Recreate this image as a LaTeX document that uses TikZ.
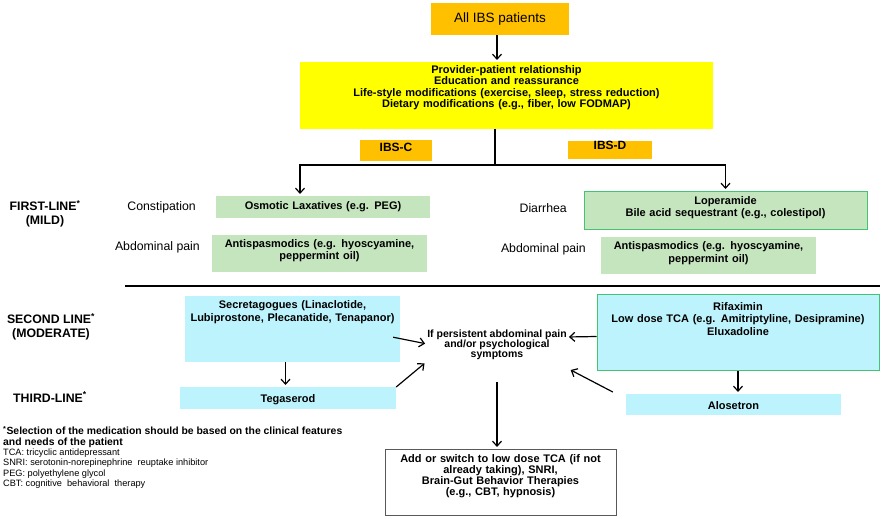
\documentclass[tikz,border=0pt]{standalone}
\usepackage{fontspec}
\setmainfont{Liberation Sans}
\usepackage{tikz}
\usetikzlibrary{arrows.meta}
\usepackage{xcolor}
\definecolor{ibsorange}{HTML}{FFC000}
\definecolor{ibsyellow}{HTML}{FFFF00}
\definecolor{ibsgreen}{HTML}{C5E5BE}
\definecolor{ibsblue}{HTML}{BCF3FC}
\definecolor{ibsborder}{HTML}{44C373}
\definecolor{ibsgray}{HTML}{595959}
\begin{document}
\begin{tikzpicture}[x=1pt,y=-1pt,
		arr/.style={draw,line width=1.2pt,-{Straight Barb[length=5pt,width=9pt]},shorten >=2pt},
		ln/.style={draw,line width=1.2pt},
		drug/.style={inner sep=0pt,align=center,font=\bfseries\fontsize{11}{12.5}\selectfont},
		greenbox/.style={drug,fill=ibsgreen},
		bluebox/.style={drug,fill=ibsblue},
		subtype/.style={fill=ibsorange,inner sep=0pt,align=center,font=\bfseries\fontsize{12}{13}\selectfont},
		lbl/.style={inner sep=0pt,anchor=east,font=\fontsize{12.3}{14}\selectfont},
		level/.style={inner sep=0pt,align=center,font=\bfseries\fontsize{12.3}{14}\selectfont}]
				\useasboundingbox (0,0) rectangle (892,519);
				\node [fill=ibsorange,minimum width=138pt,minimum height=32pt,inner sep=0pt,font=\fontsize{13.5}{15}\selectfont] (allibs) at (500,19) {All IBS patients};
				\node [drug,fill=ibsyellow,anchor=north,text width=413pt,text height=11pt,text depth=56pt,font=\bfseries\fontsize{11}{11.5}\selectfont] (general) at (506.5,62) {Provider-patient relationship\\Education and reassurance\\Life-style modifications (exercise, sleep, stress reduction)\\Dietary modifications (e.g., fiber, low FODMAP)};
				\node [subtype,anchor=north,text width=72pt,text height=11.3pt,text depth=9.7pt] (ibsc) at (396,140) {IBS-C};
				\node [subtype,anchor=north,text width=84pt,text height=8.5pt,text depth=9.5pt] (ibsd) at (610,141) {IBS-D};
				\node [level] (first) at (45,214) {FIRST-LINE\textsuperscript{*}\\(MILD)};
				\node [level] (second) at (51,327) {SECOND LINE\textsuperscript{*}\\(MODERATE)};
				\node [level] (third) at (50,397) {THIRD-LINE\textsuperscript{*}};
				\node [lbl] (constip) at (196,207) {Constipation};
				\node [lbl] (painc) at (200,247) {Abdominal pain};
				\node [lbl] (diarrhea) at (567,208) {Diarrhea};
				\node [lbl] (paind) at (586,249) {Abdominal pain};
				\node [greenbox,anchor=north,text width=214pt,text height=13.5pt,text depth=8.5pt] (osmotic) at (323,196) {Osmotic Laxatives (e.g. PEG)};
				\node [greenbox,anchor=north,text width=215pt,text height=12pt,text depth=25pt] (antic) at (319.5,235) {Antispasmodics (e.g. hyoscyamine,\\peppermint oil)};
				\node [greenbox,draw=ibsborder,line width=1pt,anchor=north,text width=283pt,text height=12.5pt,text depth=25.5pt] (lopera) at (725.5,191) {Loperamide\\Bile acid sequestrant (e.g., colestipol)};
				\node [greenbox,anchor=north,text width=215pt,text height=12.5pt,text depth=24.5pt] (antid) at (708.5,237) {Antispasmodics (e.g. hyoscyamine,\\peppermint oil)};
				\node [bluebox,anchor=north,text width=215pt,text height=12.5pt,text depth=53.5pt] (secr) at (292.5,296) {Secretagogues (Linaclotide,\\Lubiprostone, Plecanatide, Tenapanor)};
				\node [bluebox,anchor=north,text width=216pt,text height=15pt,text depth=7pt] (tega) at (288,387) {Tegaserod};
				\node [bluebox,draw=ibsborder,line width=1pt,anchor=north,text width=282pt,text height=15.5pt,text depth=60.5pt] (rifax) at (738,294) {Rifaximin\\Low dose TCA (e.g. Amitriptyline, Desipramine)\\Eluxadoline};
				\node [bluebox,anchor=north,text width=215pt,text height=15.5pt,text depth=5.5pt] (alos) at (733.5,394) {Alosetron};
				\node [inner sep=0pt,align=center,font=\bfseries\fontsize{10.5}{10}\selectfont] (persist) at (497,345) {If persistent abdominal pain\\and/or psychological\\symptoms};
				\node [drug,fill=white,draw=ibsgray,line width=1pt,anchor=north,text width=231pt,text height=12.5pt,text depth=53.5pt,font=\bfseries\fontsize{11}{11}\selectfont] (bottom) at (500.5,449) {Add or switch to low dose TCA (if not\\already taking), SNRI,\\Brain-Gut Behavior Therapies\\(e.g., CBT, hypnosis)};
				\node [anchor=north west,align=left,inner sep=0pt,font=\fontsize{9.2}{10.3}\selectfont] (notes) at (3,426) {{\bfseries\fontsize{10.4}{10.3}\selectfont\textsuperscript{*}Selection of the medication should be based on the clinical features}\\{\bfseries\fontsize{10.4}{10.3}\selectfont and needs of the patient}\\TCA: tricyclic antidepressant\\SNRI: serotonin-norepinephrine\ \ reuptake inhibitor\\PEG: polyethylene glycol\\CBT: cognitive\ \ behavioral\ \ therapy};
				\coordinate (split) at (495,165);
				\coordinate (drop) at (497,382);
				\draw [arr] ([xshift=-3pt]allibs.south) -- ([xshift=-3pt]allibs.south |- general.north);
				% \draw [ln] (general.south) -- (split);
				\draw [ln] (general.south -| split) -- (split);
				\draw [arr] (split) -| ([xshift=-23pt]osmotic.north);
				\draw [arr] (split) -| (lopera.north);
				\draw [ln] (125,286) -- (880,286);
				\draw [arr] ([shift={(-7pt,-8pt)}]secr.east) -- ([yshift=1pt]persist.west);
				\draw [arr] ([xshift=-7pt]secr.south) -- ([xshift=-7pt]secr.south |- tega.north);
				\draw [arr] (tega.north east) -- ([shift={(-1pt,-2pt)}]persist.south west);
				\draw [arr] ([yshift=-4pt]rifax.west) -- ([yshift=8pt]persist.east);
				\draw [arr] (rifax.south) -- (rifax.south |- alos.north);
				\draw [arr] ([shift={(-13pt,2pt)}]alos.north west) -- ([shift={(2pt,-9pt)}]persist.south east);
				\draw [arr] (drop) -- (drop |- bottom.north);
			\end{tikzpicture}
\end{document}
